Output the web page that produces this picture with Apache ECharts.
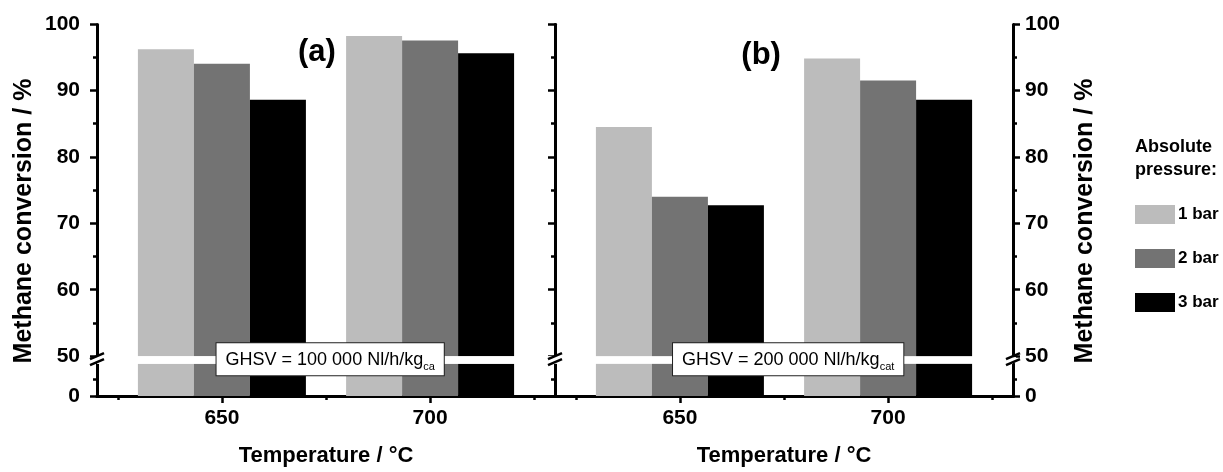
<!DOCTYPE html>
<html>
<head>
<meta charset="utf-8">
<script src="https://cdn.jsdelivr.net/npm/echarts@6/dist/echarts.min.js"></script>
<style>
  html, body { margin: 0; padding: 0; background: #fff; }
  #main { width: 1223px; height: 472px; }
</style>
</head>
<body>
<div id="main"></div>
<script>
// data
const temperatures = [650, 700];
const pressures = ['1 bar', '2 bar', '3 bar'];
const panelA = [
    [96.2, 98.2],   // 1 bar
    [94.0, 97.5],   // 2 bar
    [88.6, 95.6]    // 3 bar
];
const panelB = [
    [84.5, 94.8],
    [74.0, 91.5],
    [72.7, 88.6]
];
const yMajorTicks = [0, 50, 60, 70, 80, 90, 100];
const yMinorTicks = [2.5, 55, 65, 75, 85, 95];
const xMajorTicks = [650, 700];
const xMinorTicks = [625, 675, 725];

const barColors = ['#bcbcbc', '#737373', '#000000'];
const FONT = 'Liberation Sans, Arial, sans-serif';
const yBreaks = [{ start: 5, end: 50, gap: 1 }];

const chart = echarts.init(document.getElementById('main'));

function xAxes(grid) {
    const base = {
        gridIndex: grid, type: 'value', min: 620, max: 730,
        splitLine: { show: false }
    };
    return [
        Object.assign({}, base, {
            position: 'bottom',
            axisLine: { show: true, lineStyle: { color: '#000', width: 3 } },
            axisTick: { show: true, customValues: xMajorTicks, length: 7, lineStyle: { width: 2.5, color: '#000' } },
            axisLabel: { customValues: xMajorTicks, color: '#000', fontFamily: FONT, fontWeight: 'bold', fontSize: 21, margin: 12 },
            name: 'Temperature / °C', nameLocation: 'middle', nameGap: 49,
            nameTextStyle: { color: '#000', fontFamily: FONT, fontWeight: 'bold', fontSize: 22 }
        }),
        Object.assign({}, base, {
            position: 'bottom',
            axisLine: { show: false },
            axisTick: { show: true, customValues: xMinorTicks, length: 4, lineStyle: { width: 2.5, color: '#000' } },
            axisLabel: { show: false }
        }),
        Object.assign({}, base, {
            position: 'top',
            axisLine: { show: true, lineStyle: { color: '#000', width: 3 } },
            axisTick: { show: false },
            axisLabel: { show: false }
        })
    ];
}

function yAxis(grid, pos, opts) {
    return Object.assign({
        gridIndex: grid, type: 'value', min: 0, max: 100, position: pos,
        breaks: yBreaks,
        breakArea: { show: true, zigzagAmplitude: 0, zigzagZ: 50, expandOnClick: false,
            itemStyle: { color: '#fff', borderWidth: 0, borderColor: '#fff', opacity: 1 } },
        splitLine: { show: false },
        axisLine: { show: true, lineStyle: { color: '#000', width: 3 } },
        axisTick: { show: false },
        axisLabel: { show: false }
    }, opts);
}

function majorTicks(inside) {
    return { show: true, inside: inside, customValues: yMajorTicks, length: 7, lineStyle: { width: 2.5, color: '#000' } };
}
function minorTicks(inside) {
    return { show: true, inside: inside, customValues: yMinorTicks, length: 4, lineStyle: { width: 2.5, color: '#000' } };
}
function yLabel(margin) {
    return { show: true, customValues: yMajorTicks, color: '#000', fontFamily: FONT, fontWeight: 'bold', fontSize: 21, margin: margin };
}
const yName = {
    name: 'Methane conversion / %', nameLocation: 'middle', nameGap: 60, nameRotate: 90,
    nameTextStyle: { color: '#000', fontFamily: FONT, fontWeight: 'bold', fontSize: 25, padding: [0, 22, 0, 0] }
};

const series = [];
[panelA, panelB].forEach(function (panel, p) {
    panel.forEach(function (vals, i) {
        series.push({
            name: pressures[i],
            type: 'bar',
            xAxisIndex: p * 3,
            yAxisIndex: p * 4,
            barWidth: 56,
            barGap: '0%',
            itemStyle: { color: barColors[i] },
            data: temperatures.map(function (t, k) { return [t, vals[k]]; })
        });
    });
});

const option = {
    backgroundColor: '#fff',
    animation: false,
    grid: [
        { left: 97, top: 24, width: 458, height: 372 },
        { left: 555, top: 24, width: 458, height: 372 }
    ],
    title: {
        text: 'Absolute\npressure:',
        left: 1130, top: 131,
        textStyle: { color: '#000', fontFamily: FONT, fontWeight: 'bold', fontSize: 18, lineHeight: 23 }
    },
    legend: {
        orient: 'vertical', left: 1130, top: 200,
        itemWidth: 40, itemHeight: 19, itemGap: 25,
        icon: 'rect',
        selectedMode: false,
        data: pressures,
        textStyle: { color: '#000', fontFamily: FONT, fontWeight: 'bold', fontSize: 17, padding: [0, 0, 0, -2] }
    },
    xAxis: xAxes(0).concat(xAxes(1)),
    yAxis: [
        yAxis(0, 'left', Object.assign({ axisTick: majorTicks(false), axisLabel: yLabel(17) }, yName)),
        yAxis(0, 'left', { axisLine: { show: false }, axisTick: minorTicks(false) }),
        yAxis(0, 'right', { axisTick: majorTicks(true) }),
        yAxis(0, 'right', { axisLine: { show: false }, axisTick: minorTicks(true) }),
        yAxis(1, 'right', Object.assign({ axisTick: majorTicks(false), axisLabel: yLabel(12) }, yName)),
        yAxis(1, 'right', { axisLine: { show: false }, axisTick: minorTicks(false) }),
        yAxis(1, 'left', {})
    ],
    series: series
};

chart.setOption(option);

// annotations placed through the axes
function px(p, x, y) {
    return chart.convertToPixel({ xAxisIndex: p * 3, yAxisIndex: p * 4 }, [x, y]);
}
const graphics = [];
const ghsvTexts = [
    { main: 'GHSV = 100 000 Nl/h/kg', sub: 'ca' },
    { main: 'GHSV = 200 000 Nl/h/kg', sub: 'cat' }
];
const panelLetters = ['(a)', '(b)'];
const letterPos = [[672.8, 95.7], [669.5, 95.3]];
[0, 1].forEach(function (p) {
    const c = px(p, 676, 50);
    graphics.push({
        type: 'text', x: c[0], y: c[1] + 3, z: 100,
        style: {
            text: '{m|' + ghsvTexts[p].main + '}{s|' + ghsvTexts[p].sub + '}',
            align: 'center', verticalAlign: 'middle',
            backgroundColor: '#fff', borderColor: '#222', borderWidth: 1,
            padding: [7, 9, 5, 9],
            rich: {
                m: { fontFamily: FONT, fontSize: 18, fill: '#000', verticalAlign: 'middle', lineHeight: 20 },
                s: { fontFamily: FONT, fontSize: 11, fill: '#000', padding: [14, 0, 0, 0], lineHeight: 20 }
            }
        }
    });
    const l = px(p, letterPos[p][0], letterPos[p][1]);
    graphics.push({
        type: 'text', x: l[0], y: l[1], z: 100,
        style: { text: panelLetters[p], align: 'center', verticalAlign: 'middle',
            fontFamily: FONT, fontWeight: 'bold', fontSize: 31, fill: '#000' }
    });
});
// break marks on the vertical axis lines
const yb = px(0, 620, 50)[1] + 3;
[px(0, 620, 50)[0], px(0, 730, 50)[0], px(1, 730, 50)[0]].forEach(function (x) {
    graphics.push({ type: 'rect', z: 101, shape: { x: x - 3, y: yb - 2, width: 6, height: 5 }, style: { fill: '#fff' } });
    [-3, 3].forEach(function (d) {
        graphics.push({
            type: 'line', z: 102,
            shape: { x1: x - 7, y1: yb + d + 3, x2: x + 7, y2: yb + d - 3 },
            style: { stroke: '#000', lineWidth: 2.5 }
        });
    });
});
chart.setOption({ graphic: graphics });
</script>
</body>
</html>
